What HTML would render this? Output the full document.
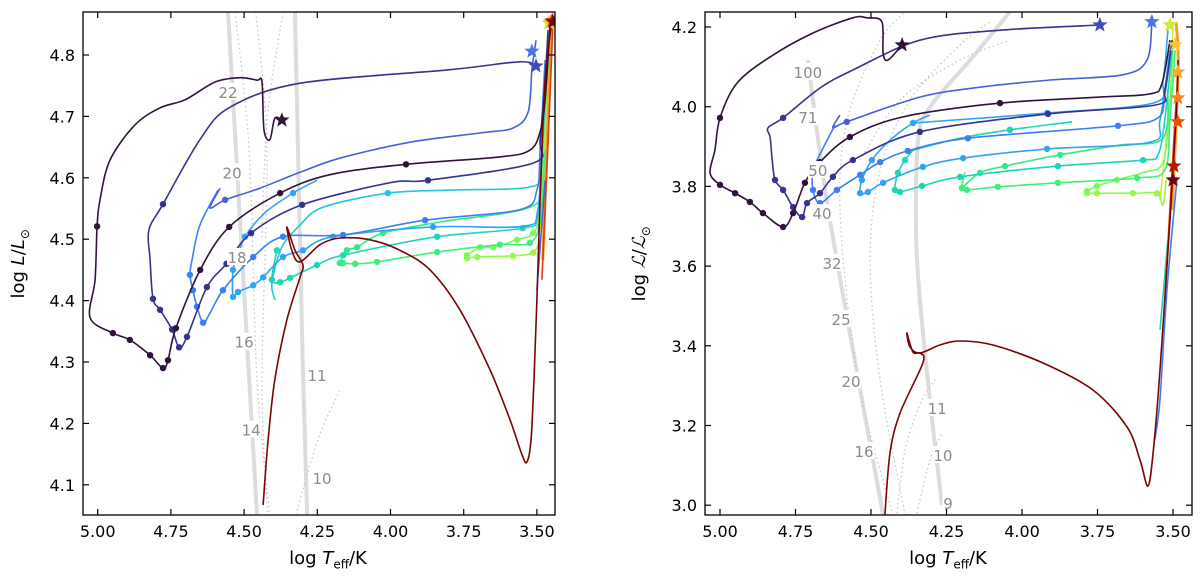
<!DOCTYPE html>
<html><head><meta charset="utf-8">
<style>
html,body{margin:0;padding:0;background:#fff;}
svg{display:block;font-family:"DejaVu Sans","Liberation Sans",sans-serif;}
</style></head>
<body>
<svg id="fig" width="1200" height="581" viewBox="0 0 1200 581" xmlns="http://www.w3.org/2000/svg">
<defs>
<clipPath id="clipL"><rect x="83" y="12" width="472" height="503"/></clipPath>
<clipPath id="clipR"><rect x="705" y="12" width="487" height="503"/></clipPath>
</defs>
</svg>
<script>
// ---------- LEFT PANEL DATA (log Teff, log L) ----------
const lDarkT=[4.371,4.395,4.412,4.432,4.439,4.456,4.514,4.599,4.702,4.787,4.873,4.958,4.992,5.002,5.009,5.026,4.948,4.890,4.821,4.777,4.760,4.733,4.650,4.551,4.377,4.207,3.947,3.626,3.524,3.489,3.472,3.455];
const lDarkL=[4.694,4.697,4.662,4.678,4.756,4.759,4.763,4.756,4.727,4.714,4.686,4.629,4.564,4.521,4.434,4.372,4.347,4.336,4.311,4.290,4.303,4.355,4.450,4.520,4.575,4.605,4.622,4.634,4.645,4.675,4.727,4.849];
const lDarkDots=[13,16,17,18,19,20,21,22,23,24,26];
const lNavyT=[3.503,3.558,3.797,4.309,4.548,4.651,4.777,4.825,4.821,4.811,4.787,4.746,4.722,4.695,4.627,4.560,4.476,4.302,4.001,3.872,3.513,3.489,3.472,3.462];
const lNavyL=[4.782,4.789,4.776,4.754,4.715,4.662,4.557,4.515,4.466,4.403,4.385,4.353,4.324,4.341,4.422,4.460,4.510,4.556,4.592,4.596,4.624,4.662,4.759,4.841];
const lNavyDots=[6,9,10,11,12,13,14,15,16,17,19];
const lBlueT=[4.582,4.616,4.565,4.446,4.309,4.173,3.933,3.694,3.582,3.530,3.517,3.503];
const lBlueL=[4.583,4.551,4.564,4.583,4.609,4.632,4.658,4.673,4.681,4.707,4.776,4.824];
const lBlueDots=[2];
const lMidT=[4.589,4.651,4.678,4.685,4.675,4.661,4.640,4.616,4.572,4.469,4.367,4.162,3.882,3.558,3.500,3.489,3.472];
const lMidL=[4.580,4.523,4.466,4.442,4.417,4.390,4.364,4.380,4.417,4.471,4.504,4.507,4.531,4.548,4.580,4.645,4.792];
const lMidDots=[3,4,5,6,8,9,10,11,12];
const lSkyT=[4.251,4.333,4.429,4.497,4.524,4.538,4.538,4.521,4.469,4.435,4.367,4.299,4.196,3.855,3.548,3.497,3.480,3.463];
const lSkyL=[4.596,4.575,4.543,4.504,4.471,4.450,4.406,4.414,4.425,4.438,4.471,4.482,4.504,4.520,4.521,4.548,4.678,4.824];
const lSkyDots=[1,3,5,6,7,8,9,10,11,12,13];
const lCyanT=[4.394,4.405,4.371,4.309,4.231,4.009,3.797,3.524,3.489,3.472,3.455];
const lCyanL=[4.401,4.429,4.487,4.523,4.552,4.575,4.580,4.585,4.613,4.727,4.841];
const lCyanDots=[5];
const lTealT=[4.388,4.405,4.377,4.343,4.251,4.162,3.841,3.548,3.497,3.480,3.463];
const lTealL=[4.482,4.434,4.430,4.437,4.458,4.474,4.504,4.518,4.539,4.662,4.808];
const lTealDots=[0,1,2,3,4,5,6,7];
const lGreenT=[4.173,4.149,4.114,4.026,3.831,3.524,3.489,3.472,3.455];
const lGreenL=[4.461,4.482,4.487,4.510,4.528,4.552,4.596,4.727,4.841];
const lGreenDots=[0,1,2,3];
const lGreen2T=[4.162,4.121,4.046,3.841,3.626,3.524,3.489,3.472];
const lGreen2L=[4.461,4.460,4.463,4.479,4.491,4.494,4.531,4.645];
const lGreen2Dots=[0,1,2,3,4,5];
const lLimeT=[3.739,3.694,3.650,3.568,3.513,3.489,3.472,3.455];
const lLimeL=[4.474,4.487,4.487,4.499,4.510,4.548,4.694,4.841];
const lLimeDots=[0,1,2,3,4];
const lLime2T=[3.739,3.704,3.582,3.513,3.489];
const lLime2L=[4.469,4.471,4.473,4.478,4.499];
const lLime2Dots=[0,1,2,3];
const lYellowT=[3.489,3.472,3.455]; const lYellowL=[4.515,4.645,4.849];
const lOrangeT=[3.480,3.466,3.449]; const lOrangeL=[4.466,4.645,4.854];
const lRedT=[3.483,3.463,3.445]; const lRedL=[4.434,4.645,4.854];
const lBlueDownT=[3.472,3.500]; const lBlueDownL=[4.596,4.417];
const lMaroonT=[4.435,4.418,4.395,4.354,4.309,4.299,4.326,4.354,4.337,4.309,4.241,4.173,4.070,3.968,3.865,3.763,3.660,3.592,3.551,3.534,3.520,3.510,3.500,3.489,3.472,3.449];
const lMaroonL=[4.067,4.173,4.271,4.368,4.438,4.458,4.482,4.520,4.482,4.463,4.491,4.502,4.499,4.482,4.450,4.385,4.287,4.206,4.149,4.137,4.173,4.271,4.401,4.564,4.759,4.854];
const lStarT=[4.371,3.503,3.517,3.459,3.452,3.447,3.445];
const lStarL=[4.694,4.782,4.806,4.852,4.854,4.856,4.854];
const lGray1T=[4.555,4.456]; const lGray1L=[4.870,4.051];
const lGray2T=[4.326,4.300,4.285]; const lGray2L=[4.870,4.300,4.051];
const lDot1T=[4.531,4.483,4.456,4.412]; const lDot1L=[4.870,4.645,4.271,4.051];
const lDot2T=[4.460,4.422,4.439,4.420]; const lDot2L=[4.870,4.645,4.271,4.051];
const lDot3T=[4.367,4.420,4.440]; const lDot3L=[4.870,4.700,4.500];
const lDot4T=[4.323,4.248,4.173]; const lDot4L=[4.051,4.173,4.254];
const lLabText=["22","20","18","16","14","11","10"];
const lLabT=[4.555,4.541,4.524,4.500,4.476,4.251,4.234];
const lLabL=[4.740,4.609,4.471,4.333,4.190,4.279,4.111];
const lXTicks=[5.00,4.75,4.50,4.25,4.00,3.75,3.50];
const lXTickLabels=["5.00","4.75","4.50","4.25","4.00","3.75","3.50"];
const lYTicks=[4.1,4.2,4.3,4.4,4.5,4.6,4.7,4.8];
const lYTickLabels=["4.1","4.2","4.3","4.4","4.5","4.6","4.7","4.8"];

// ---------- RIGHT PANEL DATA ----------
const rDarkT=[4.397,4.444,4.460,4.464,4.513,4.560,4.692,4.834,4.944,5.000,5.017,5.033,5.000,4.950,4.901,4.858,4.791,4.758,4.719,4.669,4.570,4.397,4.073,3.742,3.576,3.537,3.510];
const rDarkL=[4.155,4.117,4.135,4.213,4.223,4.223,4.185,4.125,4.059,3.972,3.891,3.834,3.804,3.783,3.761,3.733,3.698,3.733,3.809,3.861,3.924,3.974,4.009,4.024,4.032,4.057,4.167];
const rDarkDots=[9,12,13,14,15,16,17,18,19,20,22];
const rNavyT=[3.742,4.073,4.338,4.560,4.669,4.791,4.841,4.834,4.828,4.818,4.791,4.758,4.728,4.712,4.669,4.626,4.560,4.338,3.914,3.560,3.527,3.503];
const rNavyL=[4.205,4.192,4.167,4.092,4.047,3.972,3.947,3.924,3.874,3.816,3.791,3.748,3.723,3.758,3.783,3.824,3.866,3.937,3.982,4.004,4.042,4.167];
const rNavyDots=[5,9,10,11,12,13,14,15,16,17,18];
const rBlueT=[4.603,4.626,4.580,4.338,4.139,3.907,3.666,3.586,3.570];
const rBlueL=[3.979,3.947,3.962,4.024,4.049,4.067,4.080,4.117,4.213];
const rBlueDots=[2];
const rMidT=[4.619,4.662,4.692,4.692,4.669,4.613,4.536,4.470,4.378,4.179,3.682,3.550,3.527,3.503];
const rMidL=[3.954,3.891,3.841,3.791,3.758,3.791,3.829,3.861,3.889,3.921,3.952,3.972,4.029,4.167];
const rMidDots=[3,4,5,6,7,8,9,10];
const rSkyT=[4.305,4.361,4.437,4.497,4.530,4.536,4.510,4.460,4.328,4.195,3.917,3.576,3.543,3.510];
const rSkyL=[3.979,3.959,3.916,3.866,3.816,3.783,3.786,3.809,3.849,3.871,3.894,3.911,3.967,4.142];
const rSkyDots=[1,3,4,5,6,7,8,9,10];
const rSky2T=[4.361,3.917,3.566,3.533,3.517];
const rSky2L=[3.959,3.984,4.009,4.067,4.192];
const rSky2Dots=[1];
const rCyanT=[4.361,4.387,4.411,4.421,4.404,4.331,4.205,3.881,3.599,3.550,3.527,3.503];
const rCyanL=[3.891,3.866,3.834,3.791,3.786,3.801,3.824,3.851,3.866,3.879,3.967,4.142];
const rCyanDots=[1,2,3,4,5,6,7,8];
const rCyan2T=[4.361,4.205,4.040,3.834];
const rCyan2L=[3.891,3.921,3.942,3.962];
const rCyan2Dots=[2];
const rGreenT=[4.189,4.199,4.182,4.080,3.881,3.619,3.527,3.510,3.493];
const rGreenL=[3.836,3.796,3.791,3.799,3.809,3.821,3.841,3.967,4.142];
const rGreenDots=[1,2,3,4,5];
const rGreen2T=[4.199,4.139,4.056,3.874,3.676,3.533,3.517];
const rGreen2L=[3.796,3.834,3.851,3.879,3.904,3.921,4.042];
const rGreen2Dots=[1,2,3];
const rLimeT=[3.785,3.752,3.686,3.593,3.537,3.517,3.500];
const rLimeL=[3.788,3.801,3.816,3.836,3.854,3.942,4.142];
const rLimeDots=[0,1,2];
const rLime2T=[3.785,3.752,3.633,3.553,3.533,3.523];
const rLime2L=[3.783,3.783,3.783,3.783,3.753,3.816];
const rLime2Dots=[0,1,2,3];
const rYellowT=[3.543,3.510,3.500]; const rYellowL=[3.766,4.017,4.213];
const rOrangeT=[3.503,3.483,3.490]; const rOrangeL=[3.741,4.092,4.213];
const rRedT=[3.527,3.493,3.483]; const rRedL=[3.515,3.972,4.042];
const rNavyDownT=[3.487,3.520,3.543,3.560]; const rNavyDownL=[3.816,3.541,3.266,3.165];
const rCyanDownT=[3.517,3.543]; const rCyanDownL=[3.666,3.440];
const rMaroonT=[4.454,4.437,4.404,4.328,4.338,4.361,4.381,4.371,4.338,4.272,4.205,4.096,3.931,3.765,3.652,3.609,3.583,3.566,3.543,3.510,3.490,3.483];
const rMaroonL=[2.975,3.131,3.231,3.357,3.382,3.384,3.432,3.397,3.382,3.402,3.412,3.402,3.357,3.289,3.196,3.113,3.048,3.131,3.339,3.716,3.967,4.117];
const rStarT=[4.397,3.742,3.570,3.510,3.493,3.484,3.484,3.484,3.497,3.500];
const rStarL=[4.155,4.205,4.213,4.205,4.155,4.087,4.022,3.962,3.851,3.816];
const rGray1T=[4.709,4.636,4.460]; const rGray1L=[4.117,3.716,2.975];
const rGray2T=[4.040,4.172,4.305,4.344,4.351,4.338,4.305,4.265]; const rGray2L=[4.238,4.117,3.999,3.916,3.691,3.515,3.264,3.001];
const rDot1T=[4.427,4.530,4.586,4.603,4.570,4.470,4.387]; const rDot1L=[2.975,3.264,3.565,3.816,3.992,4.167,4.238];
const rDot2T=[4.387,4.470,4.503,4.470,4.371,4.205,4.106]; const rDot2L=[2.975,3.314,3.615,3.841,4.017,4.155,4.213];
const rDot3T=[4.414,4.387,4.338,4.288]; const rDot3L=[2.980,3.139,3.252,3.315];
const rDot4T=[4.348,4.305,4.265]; const rDot4L=[2.980,3.113,3.180];
const rDot5T=[4.536,4.404,4.205,4.040]; const rDot5L=[3.866,4.017,4.117,4.167];
const rLabText=["100","71","50","40","32","25","20","16","11","10","9"];
const rLabT=[4.709,4.709,4.676,4.662,4.629,4.599,4.566,4.523,4.281,4.262,4.245];
const rLabL=[4.087,3.974,3.841,3.733,3.608,3.467,3.312,3.136,3.244,3.126,3.006];
const rXTicks=[5.00,4.75,4.50,4.25,4.00,3.75,3.50];
const rXTickLabels=["5.00","4.75","4.50","4.25","4.00","3.75","3.50"];
const rYTicks=[3.0,3.2,3.4,3.6,3.8,4.0,4.2];
const rYTickLabels=["3.0","3.2","3.4","3.6","3.8","4.0","4.2"];

// ---------- DRAWING ----------
const NS="http://www.w3.org/2000/svg";
const svg=document.getElementById('fig');
function mk(tag,attrs,parent){const e=document.createElementNS(NS,tag);for(const k in attrs)e.setAttribute(k,attrs[k]);(parent||svg).appendChild(e);return e;}

function starPts(cx,cy,R){const r=R*0.42;let p=[];for(let i=0;i<10;i++){const a=-Math.PI/2+i*Math.PI/5;const rr=i%2?r:R;p.push((cx+rr*Math.cos(a)).toFixed(1)+','+(cy+rr*Math.sin(a)).toFixed(1));}return p.join(' ');}

function smooth(P){
  if(P.length<3)return P.map((p,i)=>(i?'L':'M')+p[0].toFixed(1)+','+p[1].toFixed(1)).join(' ');
  let d='M'+P[0][0].toFixed(1)+','+P[0][1].toFixed(1);
  const k=0.16;
  for(let i=0;i<P.length-1;i++){
    const p0=P[Math.max(0,i-1)],p1=P[i],p2=P[i+1],p3=P[Math.min(P.length-1,i+2)];
    const c1=[p1[0]+(p2[0]-p0[0])*k,p1[1]+(p2[1]-p0[1])*k];
    const c2=[p2[0]-(p3[0]-p1[0])*k,p2[1]-(p3[1]-p1[1])*k];
    d+=' C'+c1[0].toFixed(1)+','+c1[1].toFixed(1)+' '+c2[0].toFixed(1)+','+c2[1].toFixed(1)+' '+p2[0].toFixed(1)+','+p2[1].toFixed(1);
  }
  return d;
}

function panel(p){
  const x=T=>p.x0+(p.T0-T)*p.sx;
  const y=L=>p.y0+(p.L0-L)*p.sy;
  const g=mk('g',{'clip-path':'url(#'+p.clip+')'});
  
  
  const pts=(Ts,Ls)=>Ts.map((t,i)=>[x(t),y(Ls[i])]);
  p.grays.forEach(s=>{const e=mk('path',{d:smooth(pts(s[0],s[1])),fill:'none',stroke:'#dcdcdc','stroke-width':4},g);
    
    });
  p.dots.forEach(s=>{const e=mk('path',{d:smooth(pts(s[0],s[1])),fill:'none',stroke:'#c4c4c4','stroke-width':1.3,'stroke-dasharray':'1.5 3'},g);
    
    });
  p.tracks.forEach(tr=>{
    const e=mk('path',{d:smooth(pts(tr.T,tr.L)),fill:'none',stroke:tr.c,'stroke-width':tr.w||1.6,'stroke-linejoin':'round'},g);
    
    
    (tr.d||[]).forEach(i=>{const c=mk('circle',{cx:x(tr.T[i]).toFixed(1),cy:y(tr.L[i]).toFixed(1),r:3.2,fill:tr.c},g);
      
      });
  });
  p.starT.forEach((t,i)=>{const s=mk('polygon',{points:starPts(x(t),y(p.starL[i]),8),fill:p.starC[i]},g);
    
    });
  p.labText.forEach((txt,i)=>{
    const cx=x(p.labT[i]),cy=y(p.labL[i]);const w=txt.length*9+2;
    const r=mk('rect',{x:cx-w/2,y:cy-9,width:w,height:17,fill:'#fff'},g);
    
    
    const t=mk('text',{x:cx,y:cy+6,'text-anchor':'middle','font-size':15,fill:'#8a8a8a'},g);t.textContent=txt;
    
    
  });
  const fx0=p.fx0,fx1=p.fx1,fy0=12,fy1=515;
  const fr=mk('rect',{x:fx0,y:fy0,width:fx1-fx0,height:fy1-fy0,fill:'none',stroke:'#000','stroke-width':1.3});
  
  
  p.xt.forEach((t,i)=>{const xx=x(t);
    const a=mk('line',{x1:xx,x2:xx,y1:fy1,y2:fy1-6,stroke:'#000','stroke-width':1.2});
    const b=mk('line',{x1:xx,x2:xx,y1:fy0,y2:fy0+6,stroke:'#000','stroke-width':1.2});
    const tx=mk('text',{x:xx,y:fy1+22,'text-anchor':'middle','font-size':16,fill:'#000'});tx.textContent=p.xtl[i];
    });
  p.yt.forEach((v,i)=>{const yy=y(v);
    const a=mk('line',{x1:fx0,x2:fx0+6,y1:yy,y2:yy,stroke:'#000','stroke-width':1.2});
    const b=mk('line',{x1:fx1,x2:fx1-6,y1:yy,y2:yy,stroke:'#000','stroke-width':1.2});
    const tx=mk('text',{x:fx0-8,y:yy+6,'text-anchor':'end','font-size':16,fill:'#000'});tx.textContent=p.ytl[i];
    });
}

const C={dark:'#30123b',navy:'#35338f',blue:'#4660d8',mid:'#3d7ff2',sky:'#2fa4f3',cyan:'#22c6de',teal:'#1bd7b3',green:'#2fe98d',green2:'#3cf07a',lime:'#7cf957',lime2:'#95f84a',yellow:'#d6e535',orange:'#fe9b2d',red:'#dd3d08',maroon:'#7a0403'};

panel({name:'left-panel',clip:'clipL',x0:97.7,T0:5,sx:292.8,y0:55,L0:4.8,sy:614,fx0:83,fx1:555,
  grays:[[lGray1T,lGray1L],[lGray2T,lGray2L]],
  dots:[[lDot1T,lDot1L],[lDot2T,lDot2L],[lDot3T,lDot3L],[lDot4T,lDot4L]],
  tracks:[
    {n:'yellow',T:lYellowT,L:lYellowL,c:C.yellow},
    {n:'orange',T:lOrangeT,L:lOrangeL,c:C.orange,w:3},
    {n:'red',T:lRedT,L:lRedL,c:C.red},
    {n:'lime-2',T:lLime2T,L:lLime2L,c:C.lime2,d:lLime2Dots},
    {n:'lime',T:lLimeT,L:lLimeL,c:C.lime,d:lLimeDots},
    {n:'green-2',T:lGreen2T,L:lGreen2L,c:C.green2,d:lGreen2Dots},
    {n:'green',T:lGreenT,L:lGreenL,c:C.green,d:lGreenDots},
    {n:'teal',T:lTealT,L:lTealL,c:C.teal,d:lTealDots},
    {n:'cyan',T:lCyanT,L:lCyanL,c:C.cyan,d:lCyanDots},
    {n:'sky',T:lSkyT,L:lSkyL,c:C.sky,d:lSkyDots},
    {n:'mid-blue',T:lMidT,L:lMidL,c:C.mid,d:lMidDots},
    {n:'blue-down',T:lBlueDownT,L:lBlueDownL,c:C.blue},
    {n:'blue',T:lBlueT,L:lBlueL,c:C.blue,d:lBlueDots},
    {n:'navy',T:lNavyT,L:lNavyL,c:C.navy,d:lNavyDots},
    {n:'dark',T:lDarkT,L:lDarkL,c:C.dark,d:lDarkDots},
    {n:'maroon',T:lMaroonT,L:lMaroonL,c:C.maroon}],
  starT:lStarT,starL:lStarL,starC:[C.dark,'#3f4bb8','#4a74e8',C.yellow,C.orange,C.red,C.maroon],
  labText:lLabText,labT:lLabT,labL:lLabL,
  xt:lXTicks,xtl:lXTickLabels,yt:lYTicks,ytl:lYTickLabels});

panel({name:'right-panel',clip:'clipR',x0:720,T0:5,sx:302,y0:27,L0:4.2,sy:398.5,fx0:705,fx1:1192,
  grays:[[rGray1T,rGray1L],[rGray2T,rGray2L]],
  dots:[[rDot1T,rDot1L],[rDot2T,rDot2L],[rDot3T,rDot3L],[rDot4T,rDot4L],[rDot5T,rDot5L]],
  tracks:[
    {n:'navy-down',T:rNavyDownT,L:rNavyDownL,c:C.mid},
    {n:'cyan-down',T:rCyanDownT,L:rCyanDownL,c:C.teal},
    {n:'yellow',T:rYellowT,L:rYellowL,c:C.yellow},
    {n:'orange',T:rOrangeT,L:rOrangeL,c:C.orange,w:3},
    {n:'red',T:rRedT,L:rRedL,c:C.red},
    {n:'lime-2',T:rLime2T,L:rLime2L,c:C.lime2,d:rLime2Dots},
    {n:'lime',T:rLimeT,L:rLimeL,c:C.lime,d:rLimeDots},
    {n:'green-2',T:rGreen2T,L:rGreen2L,c:C.green,d:rGreen2Dots},
    {n:'green',T:rGreenT,L:rGreenL,c:C.green2,d:rGreenDots},
    {n:'cyan-2',T:rCyan2T,L:rCyan2L,c:C.teal,d:rCyan2Dots},
    {n:'cyan',T:rCyanT,L:rCyanL,c:C.teal,d:rCyanDots},
    {n:'sky-2',T:rSky2T,L:rSky2L,c:C.sky,d:rSky2Dots},
    {n:'sky',T:rSkyT,L:rSkyL,c:C.sky,d:rSkyDots},
    {n:'mid-blue',T:rMidT,L:rMidL,c:C.mid,d:rMidDots},
    {n:'blue',T:rBlueT,L:rBlueL,c:C.blue,d:rBlueDots},
    {n:'navy',T:rNavyT,L:rNavyL,c:C.navy,d:rNavyDots},
    {n:'dark',T:rDarkT,L:rDarkL,c:C.dark,d:rDarkDots},
    {n:'maroon',T:rMaroonT,L:rMaroonL,c:C.maroon}],
  starT:rStarT,starL:rStarL,starC:[C.dark,'#3f4bb8','#4a74e8','#d2e935','#f4c53a','#fea632','#fb7e21','#e8500e','#b01b02',C.maroon],
  labText:rLabText,labT:rLabT,labL:rLabL,
  xt:rXTicks,xtl:rXTickLabels,yt:rYTicks,ytl:rYTickLabels});
</script>
<div style="position:absolute;left:0;top:0;width:1200px;height:581px;pointer-events:none;font-family:'DejaVu Sans','Liberation Sans',sans-serif;color:#000;">
  <div style="position:absolute;left:228px;top:548px;width:200px;text-align:center;font-size:18px;">log <i>T</i><sub style="font-size:12px">eff</sub>/K</div>
  <div style="position:absolute;left:848px;top:548px;width:200px;text-align:center;font-size:18px;">log <i>T</i><sub style="font-size:12px">eff</sub>/K</div>
  <div style="position:absolute;left:-60px;top:252px;width:160px;text-align:center;font-size:18px;transform:rotate(-90deg);">log <i>L</i>/<i>L</i><sub style="font-size:12px">⊙</sub></div>
  <div style="position:absolute;left:561px;top:252px;width:160px;text-align:center;font-size:18px;transform:rotate(-90deg);">log <i style="font-family:'Liberation Serif',serif">ℒ</i>/<i style="font-family:'Liberation Serif',serif">ℒ</i><sub style="font-size:12px">⊙</sub></div>
</div>
</body></html>
